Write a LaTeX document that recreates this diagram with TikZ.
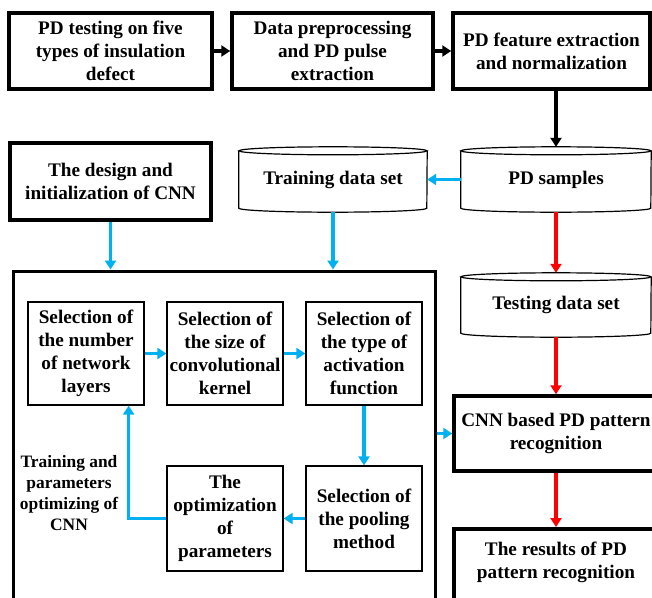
\documentclass[tikz,border=0pt]{standalone}
\usepackage{fontspec}
\setmainfont{Liberation Serif}
\usetikzlibrary{arrows.meta,calc}
\definecolor{cblue}{RGB}{0,176,240}
\definecolor{cred}{RGB}{255,0,0}
\begin{document}
\begin{tikzpicture}[x=1pt,y=1pt,
  txt/.style={font=\fontsize{19.2}{23}\selectfont\bfseries, align=center, inner sep=0pt},
  thickbox/.style={txt, draw, line width=3.5pt},
  thinbox/.style={txt, draw, line width=1.3pt, minimum width=116pt, minimum height=103pt},
  cylnode/.style={txt},
  cylline/.style={line width=1.2pt},
  arr/.style={line width=3.5pt, -{Triangle[length=9pt,width=11pt]}}]
\useasboundingbox (0,0) rectangle (652,-597);

% top row
\node[thickbox, minimum width=203pt, minimum height=76pt] (b1) at (110.5,-51) {PD testing on five\\types of insulation\\defect};
\node[thickbox, minimum width=201pt, minimum height=76pt] (b2) at (332.5,-51) {Data preprocessing\\and PD pulse\\extraction};
\node[thickbox, minimum width=197pt, minimum height=76pt] (b3) at (551.5,-51) {PD feature extraction\\and normalization};

% second row
\node[thickbox, minimum width=201pt, minimum height=77pt] (des) at (110.5,-181.5) {The design and\\initialization of CNN};
\node[cylnode, minimum width=188pt, minimum height=65pt] (train) at (333,-179.5) {Training data set};
\node[cylnode, minimum width=190pt, minimum height=65pt] (pds) at (556,-179.5) {PD samples};
\node[cylnode, minimum width=190pt, minimum height=64pt] (test) at (556,-305) {Testing data set};

\foreach \n/\r in {train/94, pds/95, test/95} {
  \draw[cylline] ([yshift=-4pt]\n.north) ellipse [x radius=\r, y radius=4];
  \draw[cylline] ([yshift=-4pt]\n.north west) -- ([yshift=4pt]\n.south west)
     arc[start angle=180, end angle=360, x radius=\r, y radius=4] -- ([yshift=-4pt]\n.north east);
}

% big box
\node[draw, line width=3pt, minimum width=422pt, minimum height=349pt, inner sep=0pt] (main) at (224,-445.5) {};

% right column
\node[thickbox, minimum width=204pt, minimum height=75pt] (cnn) at (556,-433.5) {CNN based PD pattern\\recognition};
\node[thickbox, minimum width=204pt, minimum height=140pt, anchor=north] (res) at (556,-527) {};
\node[txt] (restxt) at (556,-562) {The results of PD\\pattern recognition};

% inner boxes
\node[thinbox] (sA) at (86,-353.5) {Selection of\\the number\\of network\\layers};
\node[thinbox] (sB) at (225,-353.5) {Selection of\\the size of\\convolutional\\kernel};
\node[thinbox] (sC) at (364,-353.5) {Selection of\\the type of\\activation\\function};
\node[thinbox, minimum height=105pt] (pool) at (364,-518.5) {Selection of\\the pooling\\method};
\node[thinbox, minimum height=105pt] (opt) at (225,-518.5) {The\\optimization\\of\\parameters};
\node[txt, font=\fontsize{17.4}{21}\selectfont\bfseries] (lbl) at (69,-493) {Training and\\parameters\\optimizing of\\CNN};

% connectors
\draw[arr, black] (b1.east) -- (b2.west);
\draw[arr, black] (b2.east) -- (b3.west);
\draw[arr, black] (b3.south -| pds.north) -- (pds.north);
\draw[arr, cblue] (pds.west) -- (train.east);
\draw[arr, cblue] (des.south) -- (des.south |- main.north);
\draw[arr, cblue] (train.south) -- (train.south |- main.north);
\draw[arr, cred] (pds.south) -- (test.north);
\draw[arr, cred] (test.south) -- (cnn.north);
\draw[arr, cred] (cnn.south) -- (res.north);
\draw[arr, cblue] (cnn.west -| main.east) -- (cnn.west);
\draw[arr, cblue] (sA.east) -- (sB.west);
\draw[arr, cblue] (sB.east) -- (sC.west);
\draw[arr, cblue] (sC.south) -- (pool.north);
\draw[arr, cblue] (pool.west) -- (opt.east);
\draw[arr, cblue] (opt.west) -| ([xshift=-16pt]sA.south east);
\end{tikzpicture}
\end{document}
